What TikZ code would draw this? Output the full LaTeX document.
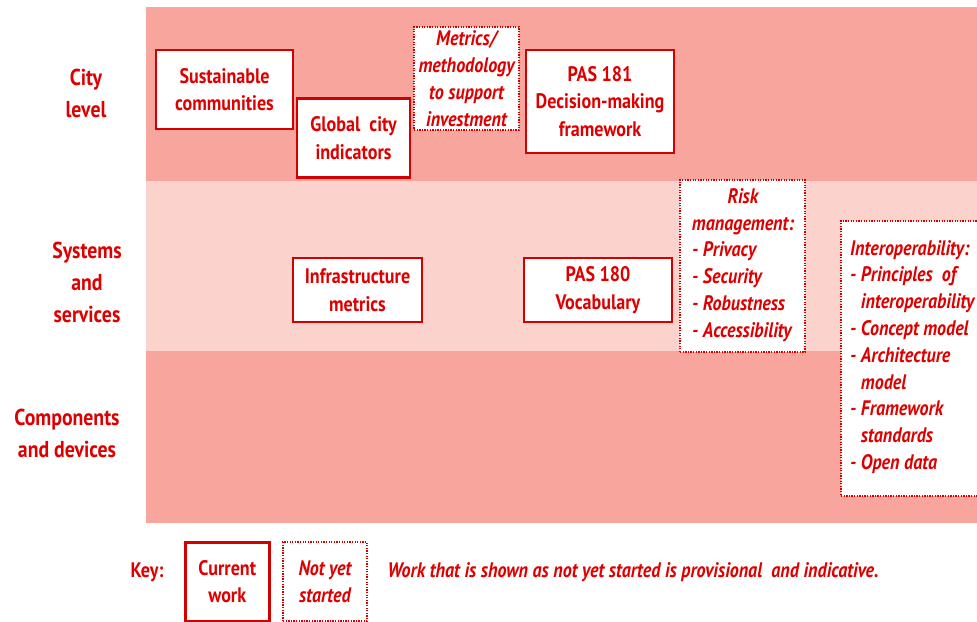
\documentclass[tikz,border=0pt]{standalone}
\usepackage{fontspec}
\setmainfont{PT Sans}[FakeStretch=0.86]
\definecolor{bandDark}{RGB}{248,166,157}
\definecolor{bandLight}{RGB}{252,210,205}
\definecolor{txtred}{RGB}{222,0,0}
\definecolor{boxred}{RGB}{210,0,0}
\tikzset{
  band/.style={fill=#1, draw=none},
  lbl/.style={text=txtred, font=\fontsize{23}{32}\selectfont\bfseries, align=center},
  curbox/.style={draw=boxred, line width=2.6pt, fill=white, text=txtred,
    font=\fontsize{21}{27.5}\selectfont\bfseries, align=center, inner sep=0pt},
  dotbox/.style={draw=boxred, line width=2pt, dash pattern=on 1.3pt off 1.3pt, fill=white, text=txtred,
    font=\fontsize{21}{27}\selectfont\bfseries\itshape, inner sep=0pt},
  keytxt/.style={text=txtred, font=\fontsize{21}{27}\selectfont\bfseries},
  ittxt/.style={text=txtred, font=\fontsize{21}{27}\selectfont\bfseries\itshape}
}
\begin{document}
\begin{tikzpicture}[x=1pt,y=-1pt]
\useasboundingbox (0,0) rectangle (977,621);
\fill[white] (0,0) rectangle (977,621);
% bands
\fill[band=bandDark] (146,7) rectangle (977,181);
\fill[band=bandLight] (146,181) rectangle (977,351);
\fill[band=bandDark] (146,351) rectangle (977,523);
% row labels
\node[lbl] (city) at (86,93) {City\\level};
\node[lbl] (sys) at (87,282) {Systems\\and\\services};
\node[lbl] (comp) at (67,433) {Components\\and devices};
% city level
\node[curbox, minimum width=137, minimum height=79] (sus) at (224.5,89.5) {Sustainable\\communities};
\node[curbox, minimum width=113, minimum height=79] (gci) at (353.5,138) {Global\ \ city\\indicators};
\node[dotbox, align=center, minimum width=105, minimum height=103] (met) at (466.5,78.5) {Metrics/\\methodology\\to support\\investment};
\node[curbox, minimum width=148, minimum height=103] (pas181) at (600,101.5) {PAS 181\\Decision-making\\framework};
% systems and services
\node[curbox, minimum width=129, minimum height=64] (infra) at (357.5,290) {Infrastructure\\metrics};
\node[curbox, minimum width=148, minimum height=64] (pas180) at (598,290) {PAS 180\\Vocabulary};
\node[dotbox, minimum width=125, minimum height=172] (risk) at (742.5,266) {};
\node[ittxt, align=center] (risktitle) at (743,212) {Risk\\management:};
\node[ittxt, align=left, anchor=north west, inner sep=0pt] (risklist) at (692,241) {- Privacy\\- Security\\- Robustness\\- Accessibility};
\node[dotbox, minimum width=150, minimum height=275, anchor=north west] (interop) at (840,220) {};
\node[ittxt, font=\fontsize{21}{26.8}\selectfont\bfseries\itshape, align=left, anchor=north west, inner sep=0pt] (interoptext) at (850,240) {Interoperability:\\- Principles\ \ of\\\phantom{- }interoperability\\- Concept model\\- Architecture\\\phantom{- }model\\- Framework\\\phantom{- }standards\\- Open data};
% key
\node[keytxt] (key) at (147,572) {Key:};
\node[curbox, minimum width=84, minimum height=79, anchor=north west] (kcur) at (184,541) {Current\\work};
\node[dotbox, align=center, minimum width=84, minimum height=79, anchor=north west] (knot) at (282,541) {Not yet\\started};
\node[ittxt, anchor=west] (note) at (384,572) {Work that is shown as not yet started is provisional\ \ and indicative.};
\end{tikzpicture}
\end{document}
